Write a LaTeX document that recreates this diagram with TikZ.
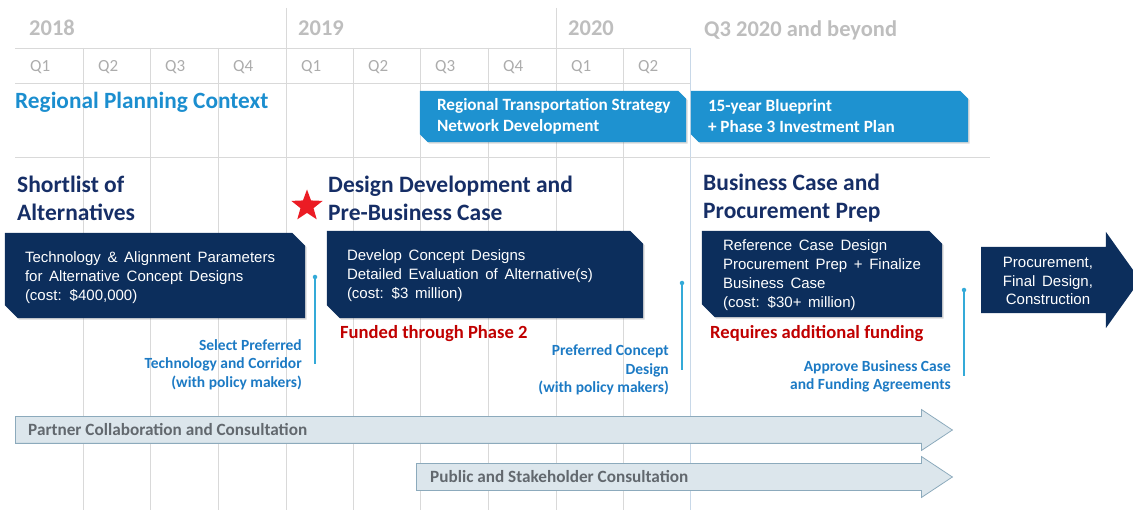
\documentclass[tikz,border=0pt]{standalone}
\usepackage{fontspec}
\setmainfont{Carlito}
\newfontfamily\arialfont[WordSpace=1.6]{Liberation Sans}
\usetikzlibrary{positioning}
\usetikzlibrary{shapes.arrows}
\usetikzlibrary{shapes.geometric}
\usetikzlibrary{shadows}
\definecolor{gridline}{RGB}{217,217,217}
\definecolor{gridblue}{RGB}{200,216,232}
\definecolor{yeargray}{RGB}{190,190,190}
\definecolor{qgray}{RGB}{172,172,172}
\definecolor{ctxblue}{RGB}{27,142,207}
\definecolor{ctxfill}{RGB}{30,146,208}
\definecolor{navyfill}{RGB}{12,46,92}
\definecolor{navytext}{RGB}{22,46,102}
\definecolor{fundred}{RGB}{192,0,0}
\definecolor{starred}{RGB}{235,28,36}
\definecolor{mileblue}{RGB}{28,122,196}
\definecolor{mileline}{RGB}{52,170,216}
\definecolor{consfill}{RGB}{220,230,236}
\definecolor{consedge}{RGB}{140,170,188}
\definecolor{constext}{RGB}{98,104,110}
\tikzset{
    gridln/.style = {draw=gridline, line width=0.8pt},
    gridlnb/.style = {draw=gridblue, line width=0.8pt},
    yearlbl/.style = {anchor=west, inner sep=0pt, font=\bfseries\fontsize{22.5}{26}\selectfont, text=yeargray},
    qlbl/.style = {anchor=west, inner sep=0pt, font=\fontsize{17}{20}\selectfont, text=qgray},
    ctxhead/.style = {anchor=west, inner sep=0pt, font=\bfseries\fontsize{23.3}{27}\selectfont, text=ctxblue},
    boxarea/.style = {rectangle, inner sep=0pt},
    ctxfillst/.style = {fill=ctxfill, drop shadow={shadow xshift=1.5pt, shadow yshift=-1.5pt, opacity=0.3}},
    ctxtext/.style = {anchor=west, inner sep=0pt, align=left, text=white, font=\bfseries\fontsize{17.2}{21}\selectfont},
    phasehead/.style = {anchor=west, inner sep=0pt, align=left, text=navytext, font=\bfseries\fontsize{23.5}{28}\selectfont},
    phasefillst/.style = {fill=navyfill, drop shadow={shadow xshift=1.5pt, shadow yshift=-1.5pt, opacity=0.3}},
    phasetext/.style = {anchor=west, inner sep=0pt, align=left, text=white, font=\arialfont\fontsize{15}{19}\selectfont},
    fundlbl/.style = {anchor=west, inner sep=0pt, text=fundred, font=\bfseries\fontsize{18.6}{21}\selectfont},
    miledot/.style = {circle, fill=mileline, inner sep=0pt, minimum size=4.5pt},
    milelink/.style = {-, draw=mileline, line width=1.3pt},
    milelbl/.style = {anchor=east, inner sep=0pt, align=right, text=mileblue, font=\bfseries\fontsize{15.5}{18.5}\selectfont},
    consarrow/.style = {single arrow, single arrow head extend=7pt, single arrow tip angle=67, inner sep=0pt, inner ysep=13pt, text height=0pt, text depth=0pt, anchor=tail, fill=consfill, draw=consedge, line width=0.8pt},
    constext/.style = {anchor=west, inner sep=0pt, text=constext, font=\bfseries\fontsize{17.2}{20}\selectfont},
    buildarrow/.style = {single arrow, single arrow head extend=15pt, single arrow tip angle=109, inner sep=0pt, inner ysep=33pt, text height=0pt, text depth=0pt, anchor=tail, fill=navyfill},
    buildtext/.style = {align=center, inner sep=0pt, text=white, font=\arialfont\fontsize{15}{18.5}\selectfont}
}

\begin{document}
\begin{tikzpicture}[x=1pt, y=-1pt]
  \useasboundingbox (0,0) rectangle (1133,510);
  \clip (0,0) rectangle (1133,510);
  % timeline grid
  \draw[gridln] (286,8) -- (286,510) (556,8) -- (556,510)
    (83,48) -- (83,510) (150,48) -- (150,510) (218,48) -- (218,510)
    (353,48) -- (353,510) (420,48) -- (420,510) (488,48) -- (488,510)
    (623,48) -- (623,510);
  \draw[gridlnb] (690,48) -- (690,510);
  \draw[gridln] (15,48) -- (690,48) (15,83) -- (690,83) (15,157) -- (990,157);
  \node[yearlbl] (y18) at (29,28) {2018};
  \node[yearlbl] (y19) at (298,28) {2019};
  \node[yearlbl] (y20) at (568,28) {2020};
  \node[yearlbl] (ybeyond) at (704,30) {Q3 2020 and beyond};
  \node[qlbl] (q1a) at (30,67) {Q1};
  \node[qlbl] (q2a) at (98,67) {Q2};
  \node[qlbl] (q3a) at (165,67) {Q3};
  \node[qlbl] (q4a) at (233,67) {Q4};
  \node[qlbl] (q1b) at (301,67) {Q1};
  \node[qlbl] (q2b) at (368,67) {Q2};
  \node[qlbl] (q3b) at (435,67) {Q3};
  \node[qlbl] (q4b) at (503,67) {Q4};
  \node[qlbl] (q1c) at (571,67) {Q1};
  \node[qlbl] (q2c) at (638,67) {Q2};
  % regional planning context
  \node[ctxhead] (ctx) at (15,102) {Regional Planning Context};
  \node[boxarea, minimum width=266pt, minimum height=51pt] (rtsbox) at (553,116.5) {};
  \fill[ctxfillst] (rtsbox.north west) -- ([xshift=-8pt]rtsbox.north east) -- ([yshift=-8pt]rtsbox.north east)
    -- (rtsbox.south east) -- ([xshift=8pt]rtsbox.south west) -- ([yshift=8pt]rtsbox.south west) -- cycle;
  \node[ctxtext, right=17pt of rtsbox.west] (rtstxt) {Regional Transportation Strategy\\Network Development};
  \node[boxarea, minimum width=277pt, minimum height=51pt] (bpbox) at (829.5,116.5) {};
  \fill[ctxfillst] (bpbox.north west) -- ([xshift=-8pt]bpbox.north east) -- ([yshift=-8pt]bpbox.north east)
    -- (bpbox.south east) -- ([xshift=8pt]bpbox.south west) -- ([yshift=8pt]bpbox.south west) -- cycle;
  \node[ctxtext, right=17pt of bpbox.west] (bptxt) {15-year Blueprint\\+ Phase 3 Investment Plan};
  % phases
  \node[phasehead] (shorthead) at (17,198) {Shortlist of\\Alternatives};
  \node[phasehead] (designhead) at (328,198) {Design Development and\\Pre-Business Case};
  \node[phasehead] (bchead) at (703,198) {Business Case and\\Procurement Prep};
  \node[star, star points=5, star point ratio=2.4, fill=starred, inner sep=0pt, minimum size=33pt] (today) at (307,206) {};
  \node[boxarea, minimum width=300pt, minimum height=85pt] (techbox) at (155,275.5) {};
  \fill[phasefillst] (techbox.north west) -- ([xshift=-13pt]techbox.north east) -- ([yshift=-13pt]techbox.north east)
    -- (techbox.south east) -- ([xshift=13pt]techbox.south west) -- ([yshift=13pt]techbox.south west) -- cycle;
  \node[phasetext, right=20pt of techbox.west, yshift=-2pt] (techtxt) {Technology \& Alignment Parameters\\for Alternative Concept Designs\\(cost: \$400,000)};
  \node[boxarea, minimum width=316pt, minimum height=87pt] (conceptbox) at (485,274.5) {};
  \fill[phasefillst] (conceptbox.north west) -- ([xshift=-13pt]conceptbox.north east) -- ([yshift=-13pt]conceptbox.north east)
    -- (conceptbox.south east) -- ([xshift=13pt]conceptbox.south west) -- ([yshift=13pt]conceptbox.south west) -- cycle;
  \node[phasetext, right=20pt of conceptbox.west, yshift=-1.5pt] (concepttxt) {Develop Concept Designs\\Detailed Evaluation of Alternative(s)\\(cost: \$3 million)};
  \node[boxarea, minimum width=240pt, minimum height=86pt] (refbox) at (822,274) {};
  \fill[phasefillst] (refbox.north west) -- ([xshift=-13pt]refbox.north east) -- ([yshift=-13pt]refbox.north east)
    -- (refbox.south east) -- ([xshift=13pt]refbox.south west) -- ([yshift=13pt]refbox.south west) -- cycle;
  \node[phasetext, right=21pt of refbox.west, yshift=-1pt] (reftxt) {Reference Case Design\\Procurement Prep + Finalize\\Business Case\\(cost: \$30+ million)};
  \node[buildarrow, minimum height=159pt] (buildarr) at (981,280) {};
  \node[buildtext] (buildtxt) at (1048,281) {Procurement,\\Final Design,\\Construction};
  \node[fundlbl] (fund2) at (340,334) {Funded through Phase 2};
  \node[fundlbl] (fundmore) at (710,334) {Requires additional funding};
  % decision points
  \node[miledot] (m1dot) at (315,277) {};
  \coordinate (m1end) at (315,364);
  \draw[milelink] (m1dot) -- (m1end);
  \node[milelbl] (m1txt) at (302,364.5) {Select Preferred\\Technology and Corridor\\(with policy makers)};
  \node[miledot] (m2dot) at (682,283) {};
  \coordinate (m2end) at (682,370);
  \draw[milelink] (m2dot) -- (m2end);
  \node[milelbl] (m2txt) at (669,370) {Preferred Concept\\Design\\(with policy makers)};
  \node[miledot] (m3dot) at (964,290) {};
  \coordinate (m3end) at (964,376);
  \draw[milelink] (m3dot) -- (m3end);
  \node[milelbl] (m3txt) at (951,376.5) {Approve Business Case\\and Funding Agreements};
  % consultation
  \node[consarrow, minimum height=937pt] (partner) at (15,430) {};
  \node[constext] (partnertxt) at (28,430) {Partner Collaboration and Consultation};
  \node[consarrow, minimum height=536pt] (public) at (416,477) {};
  \node[constext] (publictxt) at (430,477) {Public and Stakeholder Consultation};
\end{tikzpicture}
\end{document}
